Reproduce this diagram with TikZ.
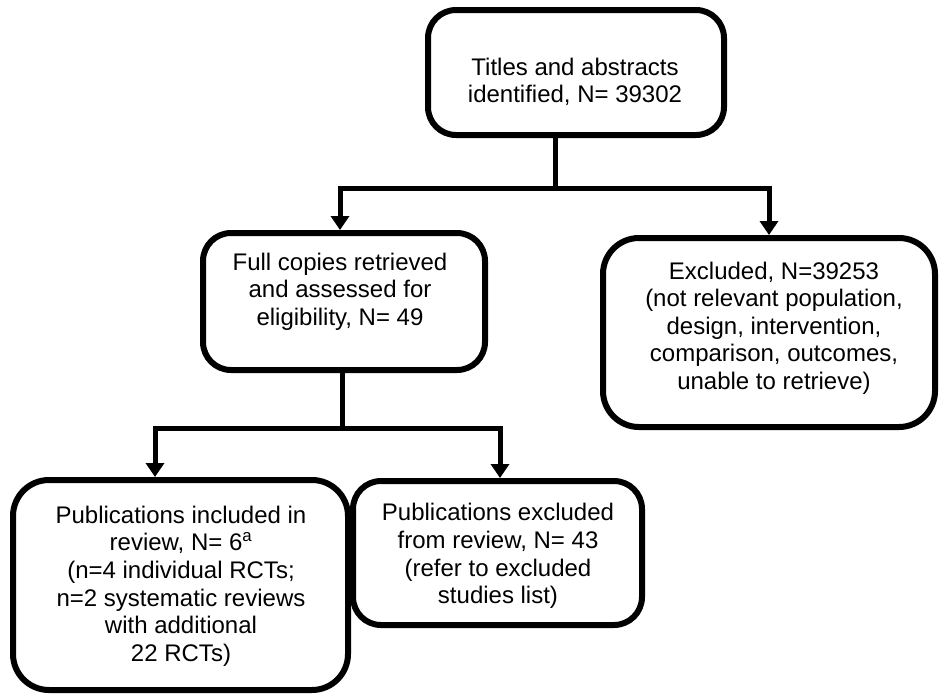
\documentclass[tikz,border=0pt]{standalone}
\usepackage{fontspec}
\setmainfont{Liberation Sans}
\usetikzlibrary{arrows.meta}
\begin{document}
\begin{tikzpicture}[x=1pt,y=-1pt,
  box/.style={draw=black,line width=6pt,rectangle,inner sep=0pt,fill=white},
  txt/.style={align=center,inner sep=0pt,font=\fontsize{24}{27.6}\selectfont},
  conn/.style={draw=black,line width=5pt},
  arr/.style={conn,-{Triangle[length=14pt,width=18pt]}}]
\useasboundingbox (0,0) rectangle (940,697);
% boxes
\node[box,rounded corners=28pt,minimum width=296pt,minimum height=125pt] (b1) at (576,72.5) {};
\node[box,rounded corners=28pt,minimum width=282pt,minimum height=137pt] (b2) at (344,301.5) {};
\node[box,rounded corners=36pt,minimum width=332pt,minimum height=189pt] (b3) at (769,332.5) {};
\node[box,rounded corners=36pt,minimum width=335pt,minimum height=210pt] (b4) at (180.5,585) {};
\node[box,rounded corners=28pt,minimum width=289pt,minimum height=144pt] (b5) at (497.5,553) {};
% texts
\node[txt] (t1) at (575,82) {Titles and abstracts\\identified, N= 39302};
\node[txt] (t2) at (340,291.5) {Full copies retrieved\\and assessed for\\eligibility, N= 49};
\node[txt] (t3) at (774,328) {Excluded, N=39253\\(not relevant population,\\design, intervention,\\comparison, outcomes,\\unable to retrieve)};
\node[txt] (t4) at (181,586) {Publications included in\\review, N= 6\textsuperscript{a}\\(n=4 individual RCTs;\\n=2 systematic reviews\\with additional\\22 RCTs)};
\node[txt] (t5) at (498,556) {Publications excluded\\from review, N= 43\\(refer to excluded\\studies list)};
% connectors
\coordinate (j1) at (555,188);
\coordinate (a2) at (340,0);
\coordinate (j2) at (342,428);
\coordinate (a4) at (155,0);
\coordinate (a5) at (500,0);
\draw[conn] (j1 |- b1.south) -- (j1);
\draw[arr] (j1) -| (a2 |- b2.north);
\draw[arr] (j1) -| (b3.north);
\draw[conn] (j2 |- b2.south) -- (j2);
\draw[arr] (j2) -| (a4 |- b4.north);
\draw[arr] (j2) -| (a5 |- b5.north);
\end{tikzpicture}
\end{document}
